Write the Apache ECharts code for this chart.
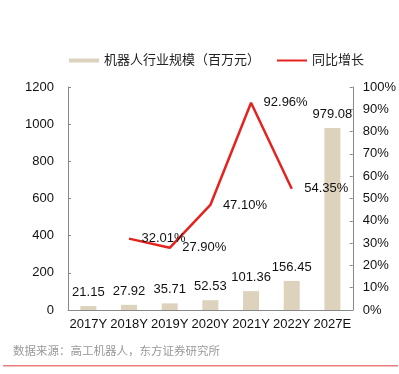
<!DOCTYPE html>
<html><head><meta charset="utf-8">
<script src="https://cdn.jsdelivr.net/npm/echarts@6/dist/echarts.min.js"></script>
<style>html,body{margin:0;padding:0;background:#fff;}#c{width:399px;height:374px;}</style>
</head><body><div id="c"></div>
<script>
const categories = ['2017Y','2018Y','2019Y','2020Y','2021Y','2022Y','2027E'];
const scaleValues = [21.15, 27.92, 35.71, 52.53, 101.36, 156.45, 979.08];
const growthValues = [null, 32.01, 27.90, 47.10, 92.96, 54.35, null];
const leftTicks = [0, 200, 400, 600, 800, 1000, 1200];
const sourceText = '数据来源：高工机器人，东方证券研究所';

const font = '"Liberation Sans", Arial, "Noto Sans CJK SC", sans-serif';
const chart = echarts.init(document.getElementById('c'), null, {renderer:'canvas'});
chart.setOption({
  animation:false,
  textStyle:{fontFamily:font},
  legend:{
    top:49, left:64, itemGap:16, itemWidth:30, itemHeight:4,
    textStyle:{fontSize:13, color:'#222', fontFamily:font},
    data:[{name:'机器人行业规模（百万元）', icon:'rect'},
          {name:'同比增长'}]
  },
  grid:{left:68, right:41, top:87, bottom:64},
  xAxis:{
    type:'category', data:categories,
    axisLine:{lineStyle:{color:'#888'}},
    axisTick:{inside:true, length:4, lineStyle:{color:'#888'}},
    axisLabel:{color:'#111', fontSize:13, margin:8, interval:0, fontFamily:font}
  },
  yAxis:[{
    type:'value', min:leftTicks[0], max:leftTicks[leftTicks.length-1], interval:200,
    splitLine:{show:false},
    axisLine:{show:true, lineStyle:{color:'#888'}},
    axisTick:{show:true, inside:true, length:3, lineStyle:{color:'#888'}},
    axisLabel:{color:'#111', fontSize:13, margin:14, fontFamily:font, formatter:v=>String(v)}
  },{
    type:'value', min:0, max:100, interval:10,
    splitLine:{show:false},
    axisLine:{show:true, lineStyle:{color:'#888'}},
    axisTick:{show:true, inside:true, length:3, lineStyle:{color:'#888'}},
    axisLabel:{color:'#111', fontSize:13, margin:10, formatter:'{value}%', fontFamily:font}
  }],
  series:[{
    name:'机器人行业规模（百万元）', type:'bar', data:scaleValues, barWidth:16,
    itemStyle:{color:'#DDD3BC'},
    label:{show:true, position:'top', distance:7, color:'#111', fontSize:13, fontFamily:font,
      formatter:p=>p.value.toFixed(2)}
  },{
    name:'同比增长', type:'line', yAxisIndex:1, data:growthValues,
    symbol:'circle', symbolSize:1, showSymbol:true,
    lineStyle:{color:'#E5231E', width:2.5}, itemStyle:{color:'rgba(0,0,0,0)'},
    label:{show:true, position:'right', distance:12, color:'#111', opacity:1, fontSize:13, fontFamily:font,
      formatter:p=>Number(p.value).toFixed(2)+'%'}
  }],
  graphic:[{
    type:'text', left:13, top:346,
    style:{text:sourceText, fill:'#999', fontSize:11.5, fontFamily:font}
  },{
    type:'rect', shape:{x:3, y:365, width:395, height:1.5}, style:{fill:'#EC7C7C'}
  }]
});
</script></body></html>
